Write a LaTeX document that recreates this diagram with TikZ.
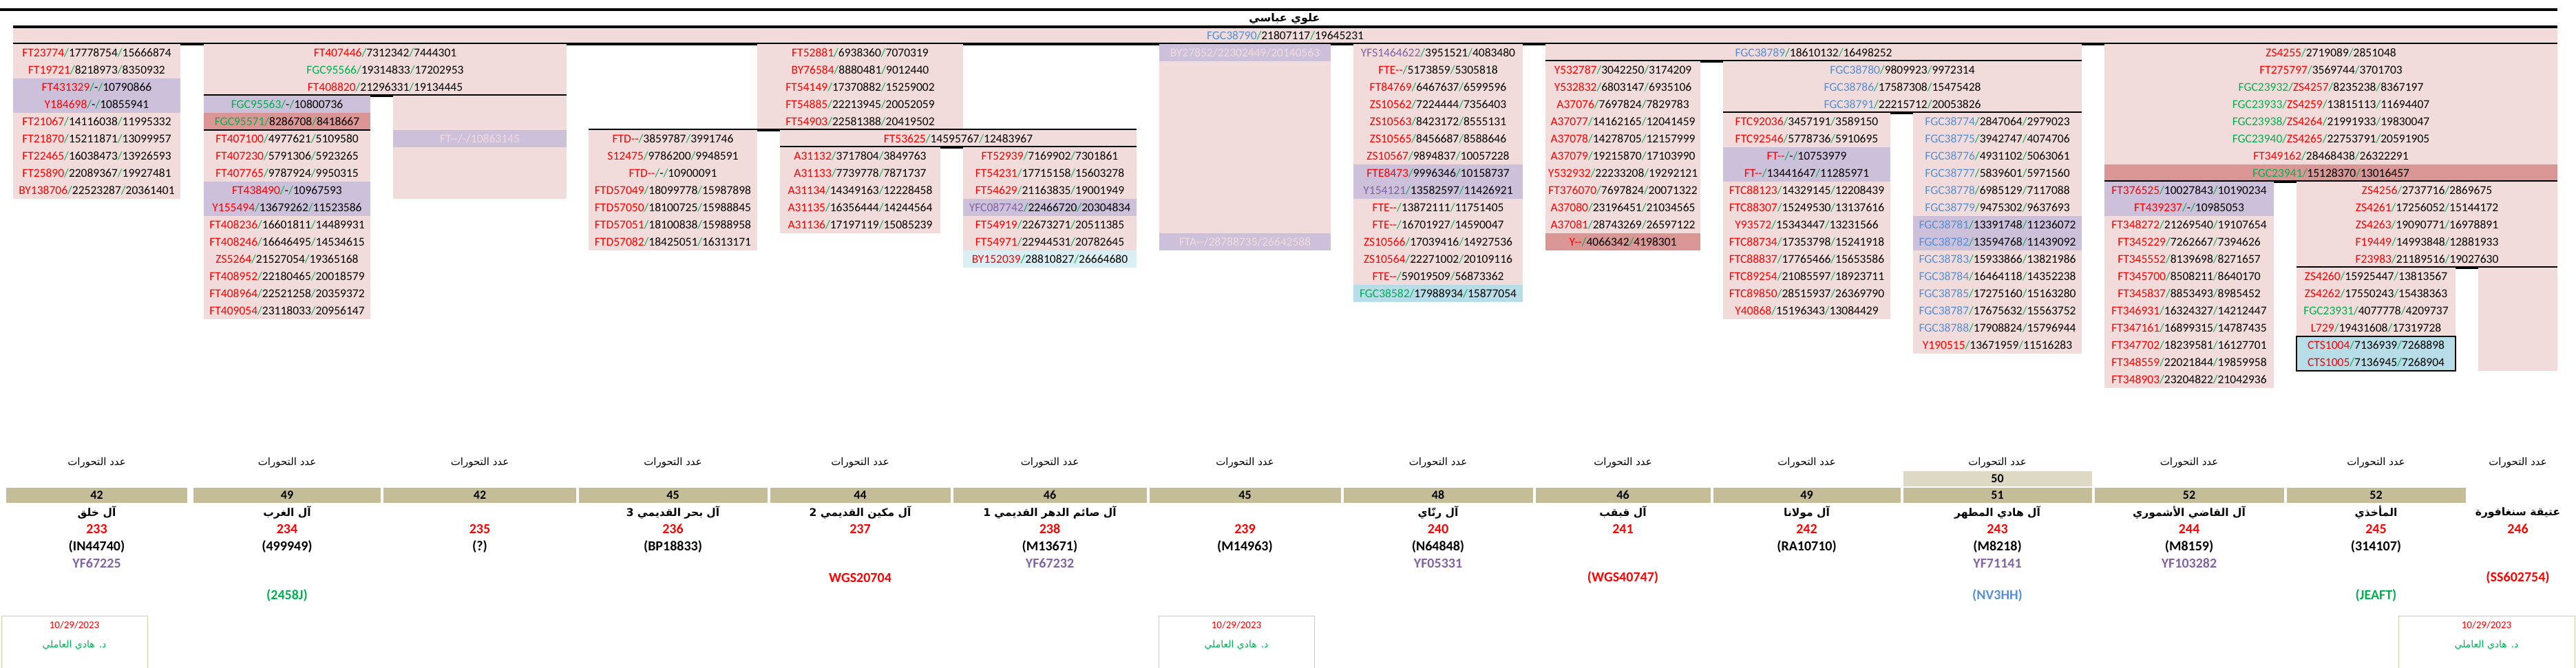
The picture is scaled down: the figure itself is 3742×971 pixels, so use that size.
\documentclass[tikz,border=0pt]{standalone}
\usepackage{fontspec}
\setmainfont{Carlito}
\newfontfamily\arabicfont[Script=Arabic]{DejaVu Sans}
\TeXXeTstate=1
\definecolor{pinkbg}{HTML}{F2DCDB}
\definecolor{lilac}{HTML}{CCC0DA}
\definecolor{rose}{HTML}{DA9694}
\definecolor{iceblue}{HTML}{DAEEF3}
\definecolor{skyblue}{HTML}{B7DEE8}
\definecolor{snpred}{HTML}{FF0000}
\definecolor{slashgreen}{HTML}{00B050}
\definecolor{fgcblue}{HTML}{558ED5}
\definecolor{yfpurple}{HTML}{8064A2}
\definecolor{tanbox}{HTML}{C4BD97}
\definecolor{tanlight}{HTML}{DDD9C4}
\definecolor{boxline}{HTML}{C3D69B}
\newcommand{\snp}[4]{\textcolor{#1}{#2}\textcolor{slashgreen}{/}#3\textcolor{slashgreen}{/}#4}
\newcommand{\ar}[1]{{\arabicfont\beginR #1\endR}}
\newcommand{\snpcol}[5]{%
  \foreach \bg/\nc/\nm/\pa/\pb [count=\row from #4] in {#5}
    {\node[cell,fill=\bg,minimum width=#3] (#1r\row) at (#2,51.5+25*\row) {\snp{\nc}{\nm}{\pa}{\pb}};}}
\begin{document}
\begin{tikzpicture}[x=1pt,y=-1pt]
\tikzset{every node/.style={inner sep=0pt,outer sep=0pt,font=\fontsize{17.5}{20}\selectfont},
  cell/.style={fill=pinkbg,minimum height=25pt},
  pale/.style={cell,fill=lilac,text=pinkbg},
  bar/.style={line width=3.5pt},
  tag/.style={font=\arabicfont\fontsize{15}{17}\selectfont},
  tally/.style={fill=tanbox,minimum height=22pt,font=\bfseries\fontsize{18}{20}\selectfont},
  clan/.style={font=\arabicfont\bfseries\fontsize{15.5}{17}\selectfont},
  kit/.style={text=snpred,font=\bfseries\fontsize{20}{22}\selectfont},
  hap/.style={font=\bfseries\fontsize{20}{22}\selectfont},
  sign/.style={draw=boxline,line width=1pt,minimum height=76pt}}
\useasboundingbox (0,0) rectangle (3742,971);
% header
\draw[bar] (0,14) -- (3715,14);
\node[font=\arabicfont\bfseries\fontsize{16}{18}\selectfont] (title) at (1866,27) {\beginR علوي عباسي\endR};
\node[cell,minimum width=3696] (root) at (1867,51.5) {\snp{fgcblue}{FGC38790}{21807117}{19645231}};
\draw[bar] (19,39) -- (3715,39);
\draw[bar] (19,64) -- (3715,64);
% column 1
\snpcol{ca}{140.5}{243}{1}{pinkbg/snpred/FT23774/17778754/15666874,pinkbg/snpred/FT19721/8218973/8350932,
  lilac/snpred/FT431329/-/10790866,lilac/snpred/Y184698/-/10855941,pinkbg/snpred/FT21067/14116038/11995332,
  pinkbg/snpred/FT21870/15211871/13099957,pinkbg/snpred/FT22465/16038473/13926593,
  pinkbg/snpred/FT25890/22089367/19927481,pinkbg/snpred/BY138706/22523287/20361401}
% column 2
\snpcol{cb}{559.5}{527}{1}{pinkbg/snpred/FT407446/7312342/7444301,pinkbg/slashgreen/FGC95566/19314833/17202953,
  pinkbg/snpred/FT408820/21296331/19134445}
\draw[bar] (296,139) -- (823,139);
\snpcol{cc}{417}{242}{4}{lilac/slashgreen/FGC95563/-/10800736,rose/slashgreen/FGC95571/8286708/8418667,
  pinkbg/snpred/FT407100/4977621/5109580,pinkbg/snpred/FT407230/5791306/5923265,
  pinkbg/snpred/FT407765/9787924/9950315,lilac/snpred/FT438490/-/10967593,
  lilac/snpred/Y155494/13679262/11523586,pinkbg/snpred/FT408236/16601811/14489931,
  pinkbg/snpred/FT408246/16646495/14534615,pinkbg/snpred/ZS5264/21527054/19365168,
  pinkbg/snpred/FT408952/22180465/20018579,pinkbg/snpred/FT408964/22521258/20359372,
  pinkbg/snpred/FT409054/23118033/20956147}
\draw[line width=1.2pt] (296,189) -- (538,189);
\fill[pinkbg] (571,139) rectangle (823,289);
\node[pale,minimum width=252] (cdr6) at (697,201.5) {FT-{}-/-/10863145};
% column 3 and 4
\snpcol{ce}{1249.5}{299}{1}{pinkbg/snpred/FT52881/6938360/7070319,pinkbg/snpred/BY76584/8880481/9012440,
  pinkbg/snpred/FT54149/17370882/15259002,pinkbg/snpred/FT54885/22213945/20052059,
  pinkbg/snpred/FT54903/22581388/20419502}
\draw[bar] (855,189) -- (1651,189);
\snpcol{cf}{977.5}{245}{6}{pinkbg/snpred/FTD-{}-/3859787/3991746,pinkbg/snpred/S12475/9786200/9948591,
  pinkbg/snpred/FTD-{}-/-/10900091,pinkbg/snpred/FTD57049/18099778/15987898,
  pinkbg/snpred/FTD57050/18100725/15988845,pinkbg/snpred/FTD57051/18100838/15988958,
  pinkbg/snpred/FTD57082/18425051/16313171}
\node[cell,minimum width=518] (cgr6) at (1392,201.5) {\snp{snpred}{FT53625}{14595767}{12483967}};
\draw[bar] (1133,214) -- (1651,214);
\snpcol{ch}{1249.5}{233}{7}{pinkbg/snpred/A31132/3717804/3849763,pinkbg/snpred/A31133/7739778/7871737,
  pinkbg/snpred/A31134/14349163/12228458,pinkbg/snpred/A31135/16356444/14244564,
  pinkbg/snpred/A31136/17197119/15085239}
\snpcol{ci}{1525}{252}{7}{pinkbg/snpred/FT52939/7169902/7301861,pinkbg/snpred/FT54231/17715158/15603278,
  pinkbg/snpred/FT54629/21163835/19001949,lilac/yfpurple/YFC087742/22466720/20304834,
  pinkbg/snpred/FT54919/22673271/20511385,pinkbg/snpred/FT54971/22944531/20782645,
  iceblue/snpred/BY152039/28810827/26664680}
% column 6
\fill[pinkbg] (1684,64) rectangle (1933,364);
\node[pale,minimum width=249] (cjr1) at (1808.5,76.5) {BY27852/22302449/20140563};
\node[pale,minimum width=249] (cjr12) at (1808.5,351.5) {FTA-{}-/28788735/26642588};
% column 7
\snpcol{ck}{2089}{246}{1}{pinkbg/yfpurple/YFS1464622/3951521/4083480,pinkbg/snpred/FTE-{}-/5173859/5305818,
  pinkbg/snpred/FT84769/6467637/6599596,pinkbg/snpred/ZS10562/7224444/7356403,
  pinkbg/snpred/ZS10563/8423172/8555131,pinkbg/snpred/ZS10565/8456687/8588646,
  pinkbg/snpred/ZS10567/9894837/10057228,lilac/snpred/FTE8473/9996346/10158737,
  lilac/yfpurple/Y154121/13582597/11426921,pinkbg/snpred/FTE-{}-/13872111/11751405,
  pinkbg/snpred/FTE-{}-/16701927/14590047,pinkbg/snpred/ZS10566/17039416/14927536,
  pinkbg/snpred/ZS10564/22271002/20109116,pinkbg/snpred/FTE-{}-/59019509/56873362,
  skyblue/slashgreen/FGC38582/17988934/15877054}
% column 8
\node[cell,minimum width=779] (clr1) at (2634.5,76.5) {\snp{fgcblue}{FGC38789}{18610132}{16498252}};
\draw[bar] (2245,89) -- (3024,89);
\snpcol{cm}{2357.5}{225}{2}{pinkbg/snpred/Y532787/3042250/3174209,pinkbg/snpred/Y532832/6803147/6935106,
  pinkbg/snpred/A37076/7697824/7829783,pinkbg/snpred/A37077/14162165/12041459,
  pinkbg/snpred/A37078/14278705/12157999,pinkbg/snpred/A37079/19215870/17103990,
  pinkbg/snpred/Y532932/22233208/19292121,pinkbg/snpred/FT376070/7697824/20071322,
  pinkbg/snpred/A37080/23196451/21034565,pinkbg/snpred/A37081/28743269/26597122,
  rose/snpred/Y-{}-/4066342/4198301}
\snpcol{cn}{2763.5}{521}{2}{pinkbg/fgcblue/FGC38780/9809923/9972314,pinkbg/fgcblue/FGC38786/17587308/15475428,
  pinkbg/fgcblue/FGC38791/22215712/20053826}
\draw[bar] (2503,164) -- (3024,164);
\snpcol{co}{2624.5}{243}{5}{pinkbg/snpred/FTC92036/3457191/3589150,pinkbg/snpred/FTC92546/5778736/5910695,
  lilac/snpred/FT-{}-/-/10753979,lilac/snpred/FT-{}-/13441647/11285971,
  pinkbg/snpred/FTC88123/14329145/12208439,pinkbg/snpred/FTC88307/15249530/13137616,
  pinkbg/snpred/Y93572/15343447/13231566,pinkbg/snpred/FTC88734/17353798/15241918,
  pinkbg/snpred/FTC88837/17765466/15653586,pinkbg/snpred/FTC89254/21085597/18923711,
  pinkbg/snpred/FTC89850/28515937/26369790,pinkbg/snpred/Y40868/15196343/13084429}
\snpcol{cp}{2901.5}{245}{5}{pinkbg/fgcblue/FGC38774/2847064/2979023,pinkbg/fgcblue/FGC38775/3942747/4074706,
  pinkbg/fgcblue/FGC38776/4931102/5063061,pinkbg/fgcblue/FGC38777/5839601/5971560,
  pinkbg/fgcblue/FGC38778/6985129/7117088,pinkbg/fgcblue/FGC38779/9475302/9637693,
  lilac/fgcblue/FGC38781/13391748/11236072,lilac/fgcblue/FGC38782/13594768/11439092,
  pinkbg/fgcblue/FGC38783/15933866/13821986,pinkbg/fgcblue/FGC38784/16464118/14352238,
  pinkbg/fgcblue/FGC38785/17275160/15163280,pinkbg/fgcblue/FGC38787/17675632/15563752,
  pinkbg/fgcblue/FGC38788/17908824/15796944,pinkbg/snpred/Y190515/13671959/11516283}
% column 9
\snpcol{cq}{3386}{658}{1}{pinkbg/snpred/ZS4255/2719089/2851048,pinkbg/snpred/FT275797/3569744/3701703,
  pinkbg/slashgreen/{FGC23932\textcolor{slashgreen}{/}\textcolor{snpred}{ZS4257}}/8235238/8367197,
  pinkbg/slashgreen/{FGC23933\textcolor{slashgreen}{/}\textcolor{snpred}{ZS4259}}/13815113/11694407,
  pinkbg/slashgreen/{FGC23938\textcolor{slashgreen}{/}\textcolor{snpred}{ZS4264}}/21991933/19830047,
  pinkbg/slashgreen/{FGC23940\textcolor{slashgreen}{/}\textcolor{snpred}{ZS4265}}/22753791/20591905,
  pinkbg/snpred/FT349162/28468438/26322291,rose/slashgreen/FGC23941/15128370/13016457}
\draw[bar] (3057,264) -- (3715,264);
\snpcol{cr}{3180}{246}{9}{lilac/snpred/FT376525/10027843/10190234,lilac/snpred/FT439237/-/10985053,
  pinkbg/snpred/FT348272/21269540/19107654,pinkbg/snpred/FT345229/7262667/7394626,
  pinkbg/snpred/FT345552/8139698/8271657,pinkbg/snpred/FT345700/8508211/8640170,
  pinkbg/snpred/FT345837/8853493/8985452,pinkbg/snpred/FT346931/16324327/14212447,
  pinkbg/snpred/FT347161/16899315/14787435,pinkbg/snpred/FT347702/18239581/16127701,
  pinkbg/snpred/FT348559/22021844/19859958,pinkbg/snpred/FT348903/23204822/21042936}
\snpcol{cs}{3525.5}{379}{9}{pinkbg/snpred/ZS4256/2737716/2869675,pinkbg/snpred/ZS4261/17256052/15144172,
  pinkbg/snpred/ZS4263/19090771/16978891,pinkbg/snpred/F19449/14993848/12881933,
  pinkbg/snpred/F23983/21189516/19027630}
\draw[bar] (3336,389) -- (3715,389);
\snpcol{ct}{3451.5}{231}{14}{pinkbg/snpred/ZS4260/15925447/13813567,pinkbg/snpred/ZS4262/17550243/15438363,
  pinkbg/slashgreen/FGC23931/4077778/4209737,pinkbg/snpred/L729/19431608/17319728,
  skyblue/snpred/CTS1004/7136939/7268898,skyblue/snpred/CTS1005/7136945/7268904}
\draw[line width=1.2pt] (ctr18.north west) rectangle (ctr19.south east);
\fill[pinkbg] (3600,389) rectangle (3715,539);
% branch totals
\foreach \cx/\w/\n/\nm/\num/\id [count=\k] in {
  140.5/263/42/{آل خلق}/233/{(IN44740)},
  417/272/49/{آل الغرب}/234/{(499949)},
  697/280/42/{}/235/{(?)},
  977.5/274/45/{آل بحر القديمي 3}/236/{(BP18833)},
  1249.5/262/44/{آل مكين القديمي 2}/237/{},
  1525/281/46/{آل صائم الدهر القديمي 1}/238/{(M13671)},
  1808.5/278/45/{}/239/{(M14963)},
  2089/275/48/{آل رنّاي}/240/{(N64848)},
  2357.5/254/46/{آل قبقب}/241/{},
  2624.5/272/49/{آل مولانا}/242/{(RA10710)},
  2901.5/274/51/{آل هادي المطهر}/243/{(M8218)},
  3180/275/52/{آل القاضي الأشموري}/244/{(M8159)},
  3451.5/260/52/{المأخذي}/245/{(314107)}}
{
  \node[tag] (lab\k) at (\cx,673) {\ar{عدد التحورات}};
  \node[tally,minimum width=\w] (cnt\k) at (\cx,719.5) {\n};
  \node[clan] (clan\k) at (\cx,745) {\ar{\nm}};
  \node[kit] (kit\k) at (\cx,769) {\num};
  \node[hap] (hap\k) at (\cx,795) {\id};
}
\node[tally,fill=tanlight,minimum width=274] (cnt11b) at (2901.5,695.5) {50};
\node[tag] (lab14) at (3657.5,673) {\ar{عدد التحورات}};
\node[clan] (clan14) at (3657.5,745) {\ar{عتيقة سنغافورة}};
\node[kit] (kit14) at (3657.5,769) {246};
\node[hap,text=snpred] (hap14) at (3657.5,840) {(SS602754)};
\node[hap,text=snpred] (wgs5) at (1249.5,840) {WGS20704};
\node[hap,text=snpred] (wgs9) at (2357.5,840) {(WGS40747)};
\node[hap,text=yfpurple] (yf1) at (140.5,819) {YF67225};
\node[hap,text=yfpurple] (yf6) at (1525,819) {YF67232};
\node[hap,text=yfpurple] (yf8) at (2089,819) {YF05331};
\node[hap,text=yfpurple] (yf11) at (2901.5,819) {YF71141};
\node[hap,text=yfpurple] (yf12) at (3180,819) {YF103282};
\node[hap,text=slashgreen] (ft2) at (417,866) {(2458J)};
\node[hap,text=fgcblue] (ft11) at (2901.5,866) {(NV3HH)};
\node[hap,text=slashgreen] (ft13) at (3451.5,866) {(JEAFT)};
% signatures
\foreach \sx/\sw [count=\s] in {108/212,1796/226,3612/256}{
  \node[sign,minimum width=\sw] (sig\s) at (\sx,933) {};
  \node[text=snpred,font=\fontsize{15}{17}\selectfont] (date\s) at (\sx,909) {10/29/2023};
  \node[text=slashgreen,font=\arabicfont\fontsize{14}{16}\selectfont] (doc\s) at (\sx,938) {\beginR د. هادي العاملي\endR};
}
\end{tikzpicture}
\end{document}
